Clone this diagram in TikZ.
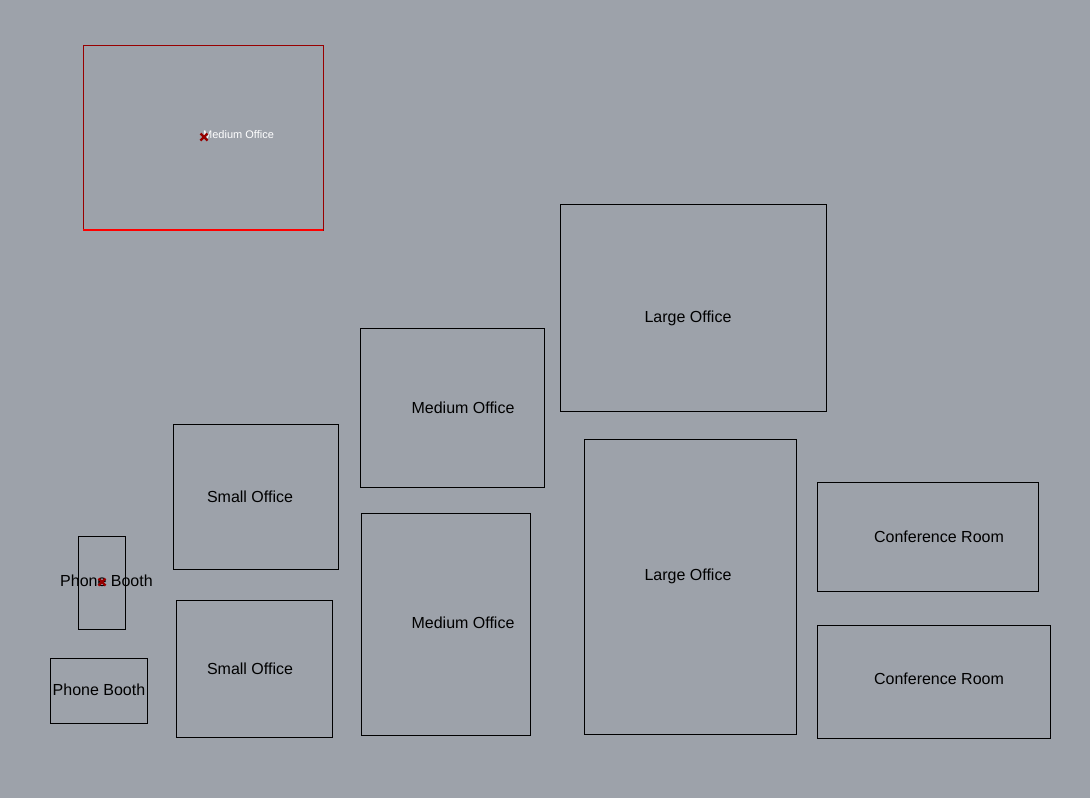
\documentclass[tikz,border=0pt]{standalone}
\usepackage{fontspec}
\setmainfont{Liberation Sans}
\usetikzlibrary{calc}
\definecolor{bg}{RGB}{157,162,170}
\definecolor{selred}{RGB}{190,0,0}
\definecolor{mark}{RGB}{150,0,0}
\begin{document}
\begin{tikzpicture}[x=1pt,y=-1pt,
  room/.style={draw=black,line width=0.9pt},
  lbl/.style={font=\fontsize{16}{18}\selectfont,text=black,inner sep=0pt},
  seltxt/.style={font=\fontsize{11}{12}\selectfont,text=white,inner sep=0pt,anchor=west},
  xmark/.style={draw=mark,line width=2.4pt}]
\fill[bg] (0,0) rectangle (1090,798);
\useasboundingbox (0,0) rectangle (1090,798);
% selected medium office
\draw[draw=selred!80!black,line width=0.9pt] (83,45) rectangle (323,230);
\draw[draw=red,line width=1.2pt] (83,230) -- (323,230);
\node[seltxt] (t0) at (203,135) {Medium Office};
\coordinate (m0) at (204,137);
\draw[xmark] ($(m0)+(-3.5,-3.5)$) -- ($(m0)+(3.5,3.5)$) ($(m0)+(-3.5,3.5)$) -- ($(m0)+(3.5,-3.5)$);
% rooms
\draw[room] (560,204) rectangle (826,411);
\node[lbl] (t1) at (688,318) {Large Office};
\draw[room] (360,328) rectangle (544,487);
\node[lbl] (t2) at (463,408) {Medium Office};
\draw[room] (173,424) rectangle (338,569);
\node[lbl] (t3) at (250,497) {Small Office};
\draw[room] (584,439) rectangle (796,734);
\node[lbl] (t4) at (688,576) {Large Office};
\draw[room] (817,482) rectangle (1038,591);
\node[lbl] (t5) at (939,537) {Conference Room};
\draw[room] (78,536) rectangle (125,629);
\node[lbl] (t6) at (106.5,581) {Phone Booth};
\coordinate (m1) at (102,582);
\draw[xmark] ($(m1)+(-3.5,-3.5)$) -- ($(m1)+(3.5,3.5)$) ($(m1)+(-3.5,3.5)$) -- ($(m1)+(3.5,-3.5)$);
\draw[room] (361,513) rectangle (530,735);
\node[lbl] (t7) at (463,623) {Medium Office};
\draw[room] (176,600) rectangle (332,737);
\node[lbl] (t8) at (250,669) {Small Office};
\draw[room] (50,658) rectangle (147,723);
\node[lbl] (t9) at (99,690) {Phone Booth};
\draw[room] (817,625) rectangle (1050,738);
\node[lbl] (t10) at (939,679) {Conference Room};
\end{tikzpicture}
\end{document}
